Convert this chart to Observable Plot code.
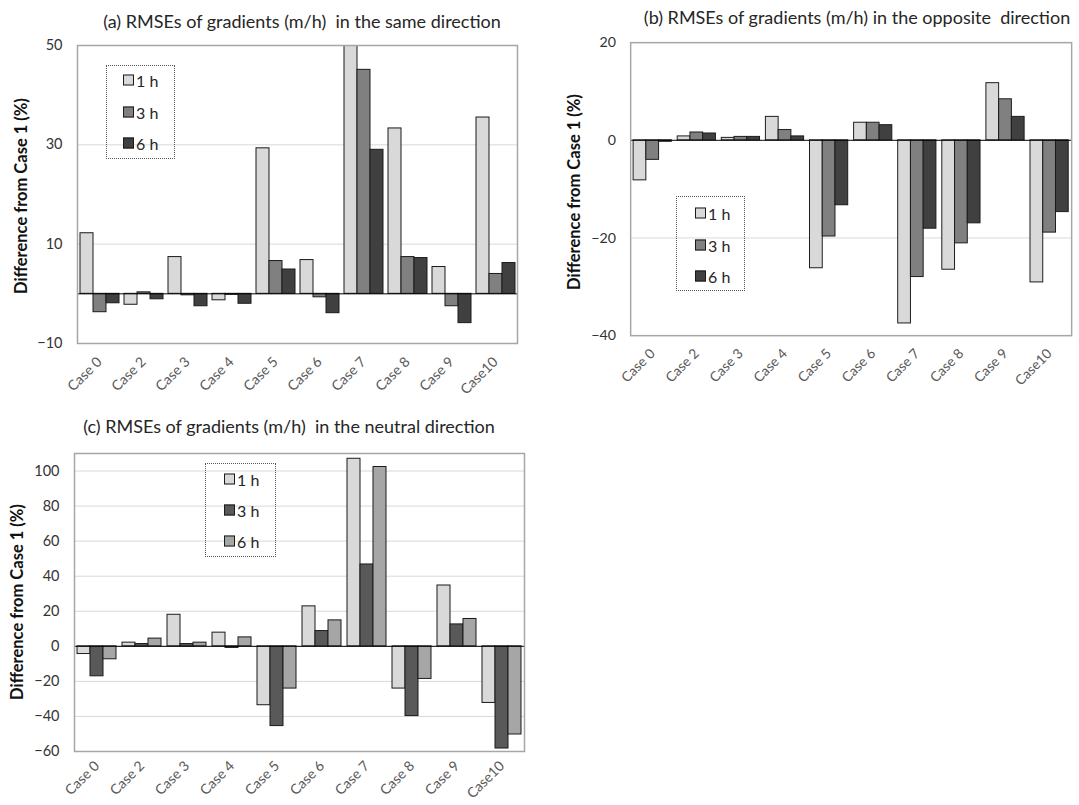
<!DOCTYPE html>
<html>
<head>
<meta charset="utf-8">
<script src="https://cdn.jsdelivr.net/npm/d3@7"></script>
<script src="https://cdn.jsdelivr.net/npm/@observablehq/plot@0.6"></script>
<style>
  html, body { margin: 0; padding: 0; background: #fff; overflow: hidden; }
  #root { position: relative; width: 1079px; height: 805px; overflow: hidden; font-family: Lato, "Open Sans", sans-serif; color: #262626; }
  .title { position: absolute; font-size: 18px; white-space: pre; transform: translate(-50%, -50%); color: #262626; }
  .ylab { position: absolute; font-weight: bold; font-size: 16.5px; white-space: nowrap; transform: translate(-50%, -50%) rotate(-90deg); color: #111; }
  .panel { position: absolute; }
  .legend { position: absolute; border: 1px dotted #555; box-sizing: border-box; }
  .sw { position: absolute; width: 9px; height: 9px; border: 1px solid #1a1a1a; box-sizing: content-box; transform: translateY(-50%); }
  .lt { position: absolute; font-size: 16px; transform: translateY(-50%); color: #262626; white-space: nowrap; }
</style>
</head>
<body>
<div id="root"></div>
<script>
// ---------- data ----------
const cases = ["Case 0", "Case 2", "Case 3", "Case 4", "Case 5", "Case 6", "Case 7", "Case 8", "Case 9", "Case10"];
const horizons = ["1 h", "3 h", "6 h"];

// (a) same direction
const same1h = [12.2, -2.2, 7.4, -1.3, 29.3, 6.8, 55.0, 33.3, 5.4, 35.5];
const same3h = [-3.7, 0.3, -0.3, -0.2, 6.6, -0.7, 45.1, 7.4, -2.5, 4.0];
const same6h = [-1.9, -1.1, -2.5, -2.0, 4.9, -3.9, 29.0, 7.2, -5.9, 6.2];

// (b) opposite direction
const opp1h = [-8.2, 0.8, 0.5, 4.8, -26.2, 3.6, -37.5, -26.5, 11.7, -29.1];
const opp3h = [-4.0, 1.6, 0.7, 2.1, -19.7, 3.6, -28.0, -21.1, 8.4, -18.9];
const opp6h = [-0.3, 1.4, 0.7, 0.8, -13.3, 3.1, -18.1, -17.0, 4.8, -14.7];

// (c) neutral direction
const neu1h = [-4.4, 2.1, 18.0, 7.8, -33.6, 22.8, 107.0, -24.1, 34.7, -32.3];
const neu3h = [-17.1, 1.3, 1.3, -0.9, -45.5, 8.7, 46.7, -39.8, 12.5, -58.3];
const neu6h = [-7.4, 4.4, 2.1, 5.1, -24.1, 14.8, 102.3, -18.6, 15.6, -50.3];

const ticksA = [-10, 10, 30, 50];
const ticksB = [-40, -20, 0, 20];
const ticksC = [-60, -40, -20, 0, 20, 40, 60, 80, 100];

const titleA = "(a) RMSEs of gradients (m/h)  in the same direction";
const titleB = "(b) RMSEs of gradients (m/h) in the opposite  direction";
const titleC = "(c) RMSEs of gradients (m/h)  in the neutral direction";
const yTitle = "Difference from Case 1 (%)";

const colorsAB = ["#d9d9d9", "#808080", "#404040"];
const colorsC = ["#d9d9d9", "#595959", "#a6a6a6"];

// ---------- helpers ----------
const root = document.getElementById("root");

function table(series) {
  const rows = [];
  cases.forEach((c, i) => horizons.forEach((h, j) => rows.push({ case: c, horizon: h, value: series[j][i] })));
  return rows;
}

function panel(opts) {
  const rows = table(opts.series);
  const svg = Plot.plot({
    width: opts.width, height: opts.height,
    marginLeft: opts.ml, marginRight: opts.mr, marginTop: opts.mt, marginBottom: opts.mb,
    style: { background: "transparent", fontFamily: "Lato, 'Open Sans', sans-serif", overflow: "visible" },
    fx: { domain: cases, paddingInner: 0, paddingOuter: 0, label: null },
    x: { domain: horizons, paddingInner: 0, paddingOuter: 1 / 6, axis: null },
    y: { domain: opts.domain, label: null },
    color: { domain: horizons, range: opts.colors },
    marks: [
      Plot.ruleY(opts.ticks, { stroke: "#d9d9d9", strokeWidth: 1 }),
      Plot.barY(rows, { fx: "case", x: "horizon", y: "value", fill: "horizon", stroke: "#1a1a1a", strokeWidth: 1, clip: true }),
      Plot.ruleY([0], { stroke: "#000", strokeWidth: 1 }),
      Plot.frame({ stroke: "#a6a6a6", strokeWidth: 1.5, facet: "super" }),
      Plot.axisY({ ticks: opts.ticks, tickSize: 0, tickPadding: 15, label: null, fontSize: 14.5, fill: "#333" }),
      Plot.axisFx({ anchor: "bottom", tickRotate: -45, tickSize: 0, tickPadding: opts.pad, label: null, fontSize: 14, fill: "#595959" })
    ]
  });
  const div = document.createElement("div");
  div.className = "panel";
  div.style.left = opts.left + "px";
  div.style.top = opts.top + "px";
  div.appendChild(svg);
  root.appendChild(div);
}

function addText(cls, text, x, y) {
  const d = document.createElement("div");
  d.className = cls;
  d.textContent = text;
  d.style.left = x + "px";
  d.style.top = y + "px";
  root.appendChild(d);
}

function legend(colors, box, rowsY, swX) {
  const b = document.createElement("div");
  b.className = "legend";
  b.style.left = box[0] + "px"; b.style.top = box[1] + "px";
  b.style.width = box[2] + "px"; b.style.height = box[3] + "px";
  horizons.forEach((h, i) => {
    const s = document.createElement("div");
    s.className = "sw";
    s.style.left = swX + "px"; s.style.top = rowsY[i] + "px";
    s.style.background = colors[i];
    b.appendChild(s);
    const t = document.createElement("div");
    t.className = "lt";
    t.textContent = h;
    t.style.left = (swX + 13) + "px"; t.style.top = rowsY[i] + "px";
    b.appendChild(t);
  });
  root.appendChild(b);
}

// ---------- panels ----------
panel({ series: [same1h, same3h, same6h], colors: colorsAB, domain: [-10, 50], ticks: ticksA, pad: 16,
        left: 0, top: 0, width: 540, height: 400, ml: 74, mr: 21, mt: 45, mb: 57 });
panel({ series: [opp1h, opp3h, opp6h], colors: colorsAB, domain: [-40, 20], ticks: ticksB, pad: 16,
        left: 540, top: 0, width: 550, height: 400, ml: 89, mr: 6, mt: 43, mb: 58 });
panel({ series: [neu1h, neu3h, neu6h], colors: colorsC, domain: [-60, 110], ticks: ticksC, pad: 12,
        left: 0, top: 400, width: 540, height: 405, ml: 73, mr: 15, mt: 53, mb: 54 });

addText("title", titleA, 302, 21);
addText("title", titleB, 857, 17);
addText("title", titleC, 289, 426);
addText("ylab", yTitle, 21, 196);
addText("ylab", yTitle, 574, 192);
addText("ylab", yTitle, 17, 602);

legend(colorsAB, [106, 65, 69, 94], [14, 46, 77], 16);
legend(colorsAB, [676, 196, 69, 95], [16, 48, 79], 18);
legend(colorsC, [205, 463, 71, 94], [15, 46, 77], 18);
</script>
</body>
</html>
